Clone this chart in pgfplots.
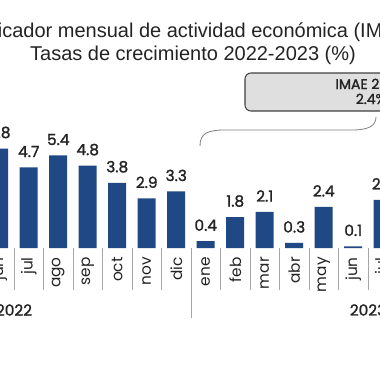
\documentclass[border=0pt]{standalone}
\usepackage{pgfplots}
\pgfplotsset{compat=1.18}
\usepackage{fontspec}
\setmainfont{Liberation Sans}
\newfontfamily\pop{Poppins}
\newfontfamily\popb{Poppins}[FakeBold=1.5]
\definecolor{barblue}{RGB}{32,72,132}
\definecolor{txt}{RGB}{35,35,35}
\begin{document}
\begin{tikzpicture}
\useasboundingbox (0,0) rectangle (285pt,285pt);
\clip (0,0) rectangle (285pt,285pt);
\begin{axis}[
  at={(-11.625pt,99pt)}, anchor=south west,
  scale only axis, width=309.75pt, height=90.04pt,
  xmin=-0.5, xmax=13.5, ymin=0, ymax=7,
  axis x line=bottom, axis y line=none,
  axis line style={draw=none},
  ytick=\empty,
  ybar, bar width=13.5pt,
  xtick={0,...,13},
  xticklabels={jun,jul,ago,sep,oct,nov,dic,ene,feb,mar,abr,may,jun,jul},
  major tick length=0pt,
  xticklabel style={yshift=-6.75pt, rotate=90, anchor=east, inner sep=0pt, font=\pop\fontsize{11.5}{11.5}\selectfont, text=txt},
  nodes near coords={\pgfmathprintnumber[fixed,fixed zerofill,precision=1]{\pgfplotspointmeta}},
  every node near coord/.append style={anchor=south, inner sep=0pt, yshift=7.5pt, font=\popb\fontsize{11.5}{11.5}\selectfont, text=txt},
  /pgf/number format/assume math mode=true,
  clip=false,
]
\addplot[fill=barblue, draw=none] coordinates {(0,5.8)(1,4.7)(2,5.4)(3,4.8)(4,3.8)(5,2.9)(6,3.3)(7,0.4)(8,1.8)(9,2.1)(10,0.3)(11,2.4)(12,0.1)(13,2.8)};
\end{axis}
\begin{scope}[x=0.75pt, y=-0.75pt, shift={(0pt,285pt)}]
  \foreach \k in {0,...,5,7,8,...,12} \draw[gray!70, line width=0.6pt] ({14+29.5*\k},248) -- ({14+29.5*\k},290);
  \draw[gray!70, line width=0.6pt] (191,248) -- (191,318);
  \node[font=\popb\fontsize{11.5}{11.5}\selectfont, text=txt] at (14,310) {2022};
  \node[font=\popb\fontsize{11.5}{11.5}\selectfont, text=txt] at (368,310) {2023};
  \draw[gray, line width=0.6pt] (200,146) .. controls (200,133) and (208,130) .. (225,130) -- (352,130) .. controls (368,130) and (376,126) .. (376,117);
  \draw[rounded corners=4.5pt, fill=gray!25, draw=black!75, line width=0.8pt] (245,73) rectangle (493,111);
  \node[font=\popb\fontsize{10.5}{10.5}\selectfont, text=txt, anchor=base] at (370,89) {IMAE 2023};
  \node[font=\popb\fontsize{10.5}{10.5}\selectfont, text=txt, anchor=base] at (371,104) {2.4\%};
  \node[font=\fontsize{15}{17}\selectfont, text=txt, anchor=base] at (193,37.5) {Indicador mensual de actividad económica (IMAE)};
  \node[font=\fontsize{15}{17}\selectfont, text=txt, anchor=base] at (193,60) {Tasas de crecimiento 2022-2023 (\%)};
\end{scope}
\end{tikzpicture}
\end{document}
